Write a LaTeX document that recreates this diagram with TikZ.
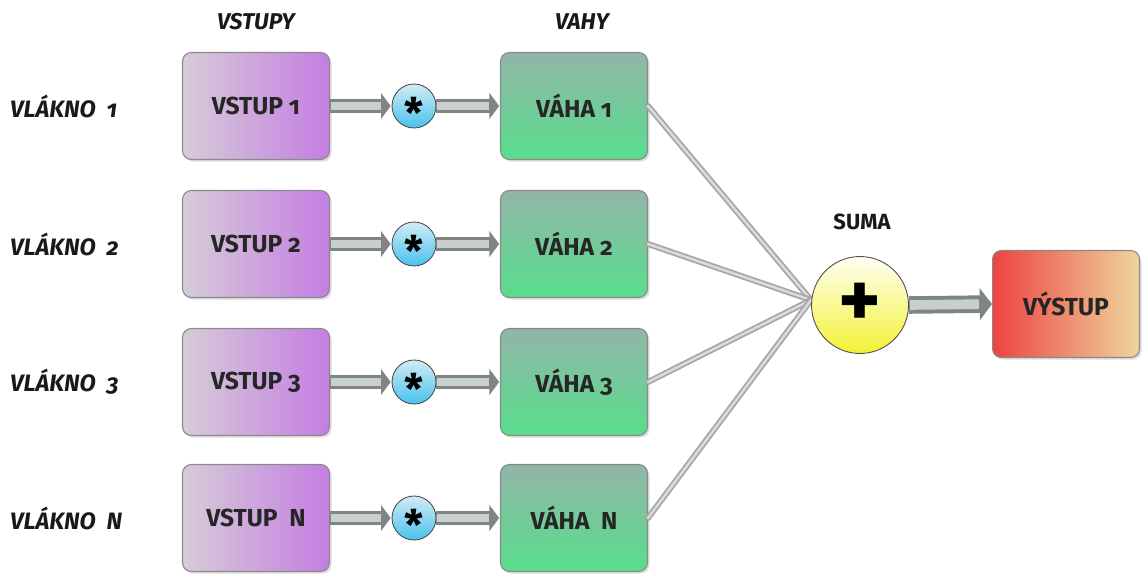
\documentclass[tikz,border=0pt]{standalone}
\usepackage{fontspec}
\setmainfont{Fira Sans}[Numbers=OldStyle]
\usetikzlibrary{arrows.meta,shadows}

\definecolor{inL}{HTML}{D6CCD8}
\definecolor{inR}{HTML}{C47EE2}
\definecolor{wT}{HTML}{92B5A8}
\definecolor{wB}{HTML}{58DE8C}
\definecolor{mT}{HTML}{D2ECF4}
\definecolor{mB}{HTML}{48C2EE}
\definecolor{sT}{HTML}{FFFFF4}
\definecolor{sB}{HTML}{F2F235}
\definecolor{oL}{HTML}{EE4242}
\definecolor{oR}{HTML}{EED69C}
\definecolor{edge}{HTML}{8A8A8A}
\definecolor{tubedark}{HTML}{7E8583}
\definecolor{tubelight}{HTML}{C9CFCC}

\tikzset{
  box/.style={rounded corners=5pt, draw=edge, line width=0.6pt,
    minimum width=2.94cm, minimum height=2.14cm,
    font=\fontsize{14}{16}\selectfont\bfseries, text=black!85,
    drop shadow={opacity=0.25, shadow xshift=1.2pt, shadow yshift=-1.2pt}},
  inbox/.style={box, left color=inL, right color=inR},
  wbox/.style={box, top color=wT, bottom color=wB},
  obox/.style={box, left color=oL, right color=oR},
  mulnode/.style={circle, draw=black!70, line width=0.5pt, minimum size=0.88cm,
    inner sep=0pt, top color=mT, bottom color=mB,
    font=\fontsize{24}{24}\selectfont\bfseries},
  sumnode/.style={circle, draw=black!70, line width=0.5pt, minimum size=1.94cm,
    inner sep=0pt, top color=sT, bottom color=sB},
  sidelabel/.style={anchor=west, font=\fontsize{13.5}{15}\selectfont\bfseries\itshape, text=black!90},
  toplabel/.style={font=\fontsize{13}{15}\selectfont\bfseries\itshape, text=black!90},
  sumlabel/.style={font=\fontsize{12.5}{14}\selectfont\bfseries, text=black!90},
  tube/.style={line width=8.5pt, draw=tubedark, shorten >=0.5pt,
    -{Triangle[length=5.5pt,width=14.5pt]},
    postaction={draw=tubelight, line width=4.5pt, shorten >=6pt, -,
      shorten <=0.6pt}},
  bigtube/.style={line width=10pt, draw=tubedark,
    -{Triangle[length=7pt,width=18pt]},
    postaction={draw=tubelight, line width=5.5pt, shorten >=7.5pt, -,
      shorten <=0.6pt}},
  wire/.style={line width=3.4pt, draw=gray!70, line cap=round,
    postaction={draw=gray!28, line width=1.4pt}},
}

\begin{document}
\begin{tikzpicture}[x=0.02cm,y=-0.02cm]
  \useasboundingbox (0,0) rectangle (1142,574);

  % column headings
  \node[toplabel] (hin) at (256,22) {VSTUPY};
  \node[toplabel] (hw)  at (582,22) {VAHY};

  % threads
  \foreach \r/\y/\t in {1/106/1, 2/244/2, 3/382/3, 4/518/N}{
    \node[sidelabel] (l\r) at (4,\y) {VLÁKNO\ \ \t};
    \node[inbox] (in\r) at (256,\y) {VSTUP\ifnum\r=4\ \fi\ \t};
    \node[mulnode] (m\r) at (414,\y) {\smash{\raisebox{-13pt}{*}}};
    \node[wbox] (w\r) at (574,\y) {VÁHA\ifnum\r=4\ \fi\ \t};
    \draw[tube] (in\r.east) -- (m\r.west);
    \draw[tube] (m\r.east) -- (w\r.west);
  }

  % summation
  \coordinate (join) at (811,300);
  \foreach \r in {1,...,4}{
    \draw[wire] (w\r.east) -- (join);
  }
  \node[sumnode] (sum) at (860,305) {};
  \node (plus) at (sum) {\fontsize{46}{46}\selectfont\bfseries +};
  \node[sumlabel] (slab) at (862,222) {SUMA};

  % output
  \node[obox] (out) at (1066,304) {VÝSTUP};
  \draw[bigtube] (sum.east) -- (out.west);
\end{tikzpicture}
\end{document}
